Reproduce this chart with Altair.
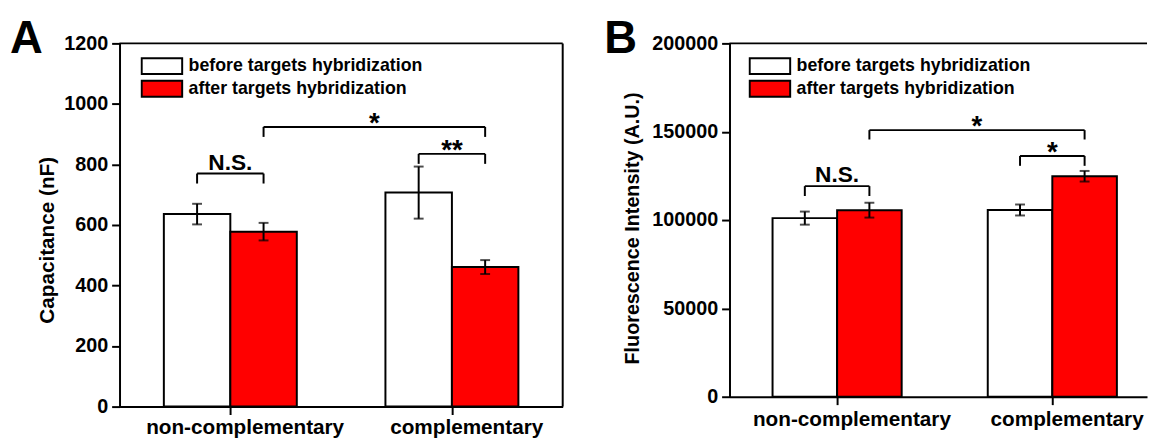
import json
import altair as alt
import pandas as pd

# ---------------- data ----------------
categories = ["non-complementary", "complementary"]
series = ["before targets hybridization", "after targets hybridization"]
fill_colors = ["white", "#ff0000"]

# Panel A: capacitance (nF); order: nc-before, nc-after, c-before, c-after
cap_mean = [636, 578, 707, 461]
cap_err = [34, 29, 86, 23]
cap_ticks = [0, 200, 400, 600, 800, 1000, 1200]

# Panel B: fluorescence intensity (A.U.)
fl_mean = [101100, 105600, 105700, 124800]
fl_err = [3700, 4200, 3100, 3000]
fl_ticks = [0, 50000, 100000, 150000, 200000]

# significance brackets: (cat_a, series_a, cat_b, series_b, top, leg_end, label)
cap_brackets = [
    (0, 0, 0, 1, 770, 737, "N.S."),
    (0, 1, 1, 1, 924, 891, "*"),
    (1, 0, 1, 1, 835, 802, "**"),
]
fl_brackets = [
    (0, 0, 0, 1, 119200, 113600, "N.S."),
    (0, 1, 1, 1, 150900, 145600, "*"),
    (1, 0, 1, 1, 136300, 130700, "*"),
]

BAR_W = 0.3  # bar width in category units
FONT = "Liberation Sans"


def center(i, j):
    return i + (j - 0.5) * BAR_W


def bars_frame(means, errs):
    rows = []
    k = 0
    for i, c in enumerate(categories):
        for j, s in enumerate(series):
            rows.append(dict(category=c, series=s,
                             x0=i + (j - 1) * BAR_W, x1=i + j * BAR_W,
                             xc=center(i, j), mean=means[k],
                             lo=means[k] - errs[k], hi=means[k] + errs[k]))
            k += 1
    return pd.DataFrame(rows)


def bracket_frames(brackets):
    horiz, legs, labels = [], [], []
    for (ca, sa, cb, sb, top, leg, lab) in brackets:
        xa, xb = center(ca, sa), center(cb, sb)
        horiz.append(dict(xa=xa, xb=xb, top=top))
        legs.append(dict(x=xa, top=top, leg=leg))
        legs.append(dict(x=xb, top=top, leg=leg))
        labels.append(dict(xm=(xa + xb) / 2, top=top, label=lab,
                           kind="ns" if lab == "N.S." else "star"))
    return pd.DataFrame(horiz), pd.DataFrame(legs), pd.DataFrame(labels)


def panel(letter, means, errs, ticks, ytitle, brackets, W, H, xmax,
          title_y, title_pad, title_size, legend_x, legend_y, letter_x,
          label_gap, right_frame):
    df = bars_frame(means, errs)
    hz, lg, lb = bracket_frames(brackets)
    cats = pd.DataFrame({"pos": list(range(len(categories))),
                         "category": categories})
    ymax = ticks[-1]
    xs = alt.Scale(domain=[-0.5, xmax], nice=False, zero=False)
    ys = alt.Scale(domain=[0, ymax], nice=False)

    x_axis = alt.Axis(values=[0, 1], labels=False,
                      grid=False, domainColor="black", domainWidth=2,
                      tickColor="black", tickWidth=2, tickSize=8,
                      title=None)
    y_axis = alt.Axis(values=ticks, format="d", grid=False,
                      domainColor="black", domainWidth=2,
                      tickColor="black", tickWidth=2, tickSize=8,
                      labelFont=FONT, labelFontWeight="bold", labelFontSize=20,
                      labelColor="black", labelPadding=4,
                      title=ytitle, titleFont=FONT, titleFontWeight="bold",
                      titleFontSize=title_size, titleColor="black",
                      titleY=title_y, titlePadding=title_pad)
    # wide, flat legend swatch (41 x 16 px), drawn to the right of its anchor
    legend = alt.Legend(orient="none", legendX=legend_x, legendY=legend_y,
                        title=None, padding=0,
                        symbolType="M-1,-0.94H3.8V0.94H-1Z", symbolSize=292,
                        symbolStrokeColor="black", symbolStrokeWidth=2,
                        symbolOpacity=1, labelFont=FONT, labelFontSize=18,
                        labelFontWeight="bold", labelColor="black",
                        labelOffset=29, rowPadding=3, clipHeight=20,
                        labelLimit=400)

    bars = alt.Chart(df).mark_bar(stroke="black", strokeWidth=2, opacity=1).encode(
        x=alt.X("x0:Q", scale=xs, axis=x_axis),
        x2="x1:Q",
        y=alt.Y("mean:Q", scale=ys, axis=y_axis),
        y2=alt.datum(0),
        color=alt.Color("series:N",
                        scale=alt.Scale(domain=series, range=fill_colors),
                        legend=legend),
    )
    err = alt.Chart(df).mark_rule(color="black", strokeWidth=2).encode(
        x="xc:Q", y="lo:Q", y2="hi:Q")
    cap_hi = alt.Chart(df).mark_tick(color="black", orient="horizontal",
                                     size=10, thickness=2).encode(
        x="xc:Q", y="hi:Q")
    cap_lo = alt.Chart(df).mark_tick(color="black", orient="horizontal",
                                     size=10, thickness=2).encode(
        x="xc:Q", y="lo:Q")

    br_h = alt.Chart(hz).mark_rule(color="black", strokeWidth=2).encode(
        x="xa:Q", x2="xb:Q", y="top:Q")
    br_v = alt.Chart(lg).mark_rule(color="black", strokeWidth=2).encode(
        x="x:Q", y="top:Q", y2="leg:Q")
    ns = alt.Chart(lb).transform_filter("datum.kind == 'ns'").mark_text(
        font=FONT, fontWeight="bold", fontSize=23, color="black",
        align="center", baseline="alphabetic", dy=-4).encode(
        x="xm:Q", y="top:Q", text="label:N")
    star = alt.Chart(lb).transform_filter("datum.kind == 'star'").mark_text(
        font=FONT, fontWeight="bold", fontSize=28, color="black",
        align="center", baseline="alphabetic", dy=5).encode(
        x="xm:Q", y="top:Q", text="label:N")

    xlabels = alt.Chart(cats).mark_text(
        font=FONT, fontWeight="bold", fontSize=21, color="black",
        align="center", baseline="alphabetic", dx=15).encode(
        x="pos:Q", y=alt.value(H + label_gap), text="category:N")

    one = pd.DataFrame({"label": [letter]})
    top_rule = alt.Chart(one).mark_rule(color="black", strokeWidth=2).encode(
        x=alt.value(0), x2=alt.value(W), y=alt.value(0))
    layers = [bars, err, cap_hi, cap_lo, br_h, br_v, ns, star, xlabels, top_rule]
    if right_frame:
        layers.append(alt.Chart(one).mark_rule(color="black", strokeWidth=2).encode(
            x=alt.value(W), y=alt.value(0), y2=alt.value(H)))
    letter_mark = alt.Chart(one).mark_text(
        font=FONT, fontWeight="bold", fontSize=46, color="black",
        align="left", baseline="alphabetic").encode(
        x=alt.value(letter_x), y=alt.value(10), text="label:N")
    layers.append(letter_mark)
    return alt.layer(*layers).properties(width=W, height=H)


chart_a = panel("A", cap_mean, cap_err, cap_ticks, "Capacitance (nF)",
                cap_brackets, W=449, H=368, xmax=1.5, title_y=199,
                title_pad=6, title_size=21, legend_x=21, legend_y=13,
                letter_x=-111, label_gap=28, right_frame=True)
chart_b = panel("B", fl_mean, fl_err, fl_ticks, "Fluorescence Intensity (A.U.)",
                fl_brackets, W=423, H=358, xmax=1.44, title_y=187,
                title_pad=9, title_size=20, legend_x=19, legend_y=13,
                letter_x=-127, label_gap=30, right_frame=False)

chart = alt.hconcat(chart_a, chart_b, spacing=41).resolve_scale(
    color="independent").properties(
    padding={"left": 2, "top": 6, "right": 0, "bottom": 0},
    background="white",
).configure_view(strokeWidth=0)

chart.save("out.html", embed_options={"renderer": "svg", "actions": False})
